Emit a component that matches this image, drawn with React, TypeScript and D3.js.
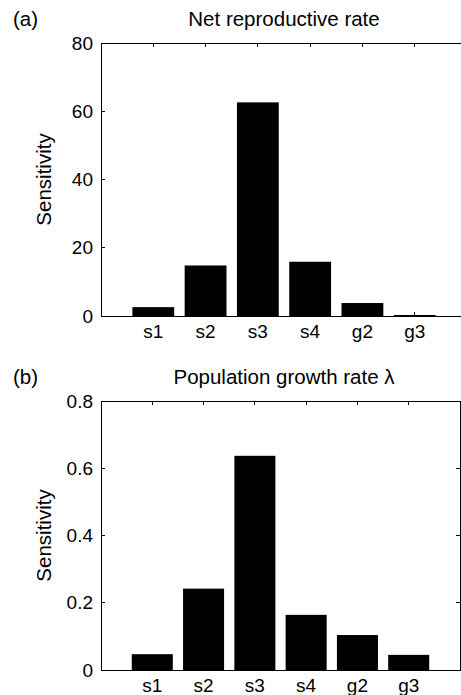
import * as d3 from "d3";

const width = 461;
const height = 695;

const categories = ["s1", "s2", "s3", "s4", "g2", "g3"];
const netReproductive = [2.6, 14.8, 62.6, 15.9, 3.8, 0.3];
const growthRate = [0.047, 0.242, 0.637, 0.164, 0.104, 0.045];
const ticksA = [0, 20, 40, 60, 80];
const ticksB = [0, 0.2, 0.4, 0.6, 0.8];

const font = "'Liberation Sans', Arial, sans-serif";
const tickFont = 19;
const labelFont = 20.5;
const tickLen = 4;

type PanelProps = {
  tag: string;
  title: string;
  values: number[];
  ticks: number[];
  top: number;
  bottom: number;
  right: number;
  fmt: (v: number) => string;
};

function Panel({ tag, title, values, ticks, top, bottom, right, fmt }: PanelProps) {
  const left = 101;
  const x = d3.scaleLinear().domain([0, categories.length + 1]).range([left, right]);
  const y = d3
    .scaleLinear()
    .domain([ticks[0], ticks[ticks.length - 1]])
    .range([bottom, top]);
  const barW = x(0.8) - x(0);

  return (
    <g fontFamily={font} fill="#000">
      <text x={13} y={top - 17} fontSize={labelFont}>{tag}</text>
      <text x={284} y={top - 17} fontSize={labelFont} textAnchor="middle">{title}</text>
      <text
        transform={`translate(51, ${(top + bottom) / 2}) rotate(-90)`}
        textAnchor="middle"
        fontSize={labelFont}
      >
        Sensitivity
      </text>

      {/* ticks, drawn under the bars */}
      <g stroke="#000" strokeWidth={1} shapeRendering="crispEdges">
        {categories.map((c, i) => (
          <g key={c}>
            <line x1={x(i + 1)} x2={x(i + 1)} y1={top} y2={top + tickLen} />
            <line x1={x(i + 1)} x2={x(i + 1)} y1={bottom} y2={bottom - tickLen} />
          </g>
        ))}
        {ticks.map((t) => (
          <g key={t}>
            <line x1={left} x2={left + tickLen} y1={y(t)} y2={y(t)} />
            <line x1={right} x2={right - tickLen} y1={y(t)} y2={y(t)} />
          </g>
        ))}
      </g>

      {values.map((v, i) => (
        <rect
          key={categories[i]}
          x={x(i + 1 - 0.4)}
          y={y(v)}
          width={barW}
          height={y(0) - y(v)}
          fill="#000"
        />
      ))}

      <rect
        x={left}
        y={top}
        width={right - left}
        height={bottom - top}
        fill="none"
        stroke="#000"
        strokeWidth={1}
        shapeRendering="crispEdges"
      />

      {ticks.map((t) => (
        <text key={t} x={left - 8} y={y(t)} dy="0.35em" textAnchor="end" fontSize={tickFont}>
          {fmt(t)}
        </text>
      ))}
      {categories.map((c, i) => (
        <text key={c} x={x(i + 1)} y={bottom + 22} textAnchor="middle" fontSize={tickFont}>
          {c}
        </text>
      ))}
    </g>
  );
}

export default function App() {
  return (
    <svg
      width={width}
      height={height}
      viewBox={`0 0 ${width} ${height}`}
      style={{ position: "absolute", left: 0, top: 0, background: "#fff" }}
    >
      <rect width={width} height={height} fill="#fff" />
      <Panel
        tag="(a)"
        title="Net reproductive rate"
        values={netReproductive}
        ticks={ticksA}
        top={43}
        bottom={316}
        right={467}
        fmt={(v) => String(v)}
      />
      <Panel
        tag="(b)"
        title="Population growth rate λ"
        values={growthRate}
        ticks={ticksB}
        top={401}
        bottom={670}
        right={460}
        fmt={(v) => (v === 0 ? "0" : d3.format(".1f")(v))}
      />
    </svg>
  );
}
